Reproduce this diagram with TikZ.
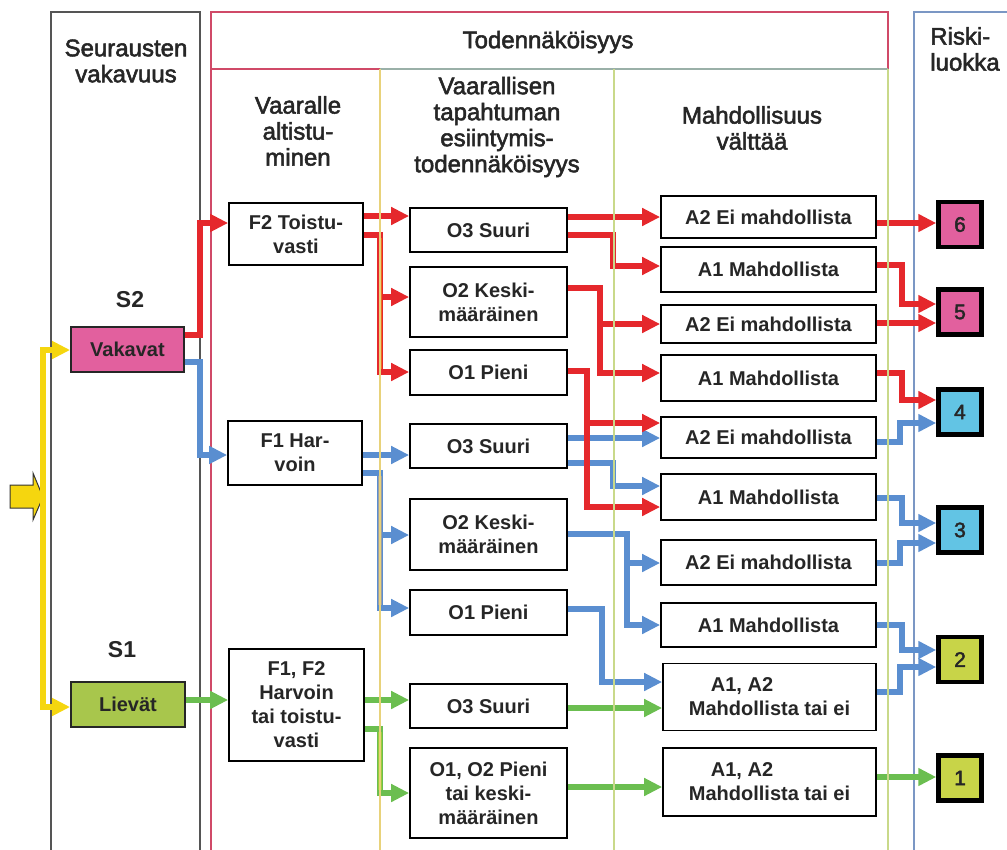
\documentclass[tikz,border=0pt]{standalone}
\usepackage{fontspec}
\setmainfont{Liberation Sans}
\newfontfamily\medfont{Liberation Sans}[FakeBold=2.2]
\usetikzlibrary{arrows.meta}
\definecolor{cred}{HTML}{E5282C}
\definecolor{cblue}{HTML}{5A8ED0}
\definecolor{cgreen}{HTML}{6BBE50}
\definecolor{cyel}{HTML}{F5D60F}
\definecolor{fpink}{HTML}{E2609E}
\definecolor{fcyan}{HTML}{62C4E4}
\definecolor{flime}{HTML}{C8D448}
\definecolor{fliev}{HTML}{A8C64C}
\definecolor{pgray}{HTML}{555555}
\definecolor{pred}{HTML}{D04A68}
\definecolor{pteal}{HTML}{9AB0A8}
\definecolor{pblue}{HTML}{7B97C4}
\definecolor{colY}{HTML}{E8D27A}
\definecolor{colG}{HTML}{C9D98A}
\definecolor{busgray}{HTML}{9A9EA6}
\definecolor{busorange}{HTML}{EE6A1E}
\definecolor{buslime}{HTML}{9CCB3C}
\definecolor{txt}{HTML}{262626}
\begin{document}
\begin{tikzpicture}[x=1pt,y=-1pt,
  box/.style={draw=black, line width=1.7pt, fill=white, inner sep=0pt, text=txt, align=center,
    font=\bfseries\fontsize{20}{24}\selectfont},
  sevbox/.style={draw=black!85, line width=1.8pt, inner sep=0pt, text=txt,
    font=\bfseries\fontsize{20}{24}\selectfont},
  riskbox/.style={draw=black, line width=4.5pt, minimum width=43pt, minimum height=45pt, inner sep=0pt,
    text=txt, font=\medfont\fontsize{21}{24}\selectfont},
  head/.style={font=\medfont\fontsize{24}{26}\selectfont, text=txt, align=center, inner sep=0pt},
  slab/.style={font=\bfseries\fontsize{23}{26}\selectfont, text=txt, inner sep=0pt},
  arr/.style={line width=6pt, -{Triangle[length=18pt,width=17pt]}},
  ra/.style={arr, draw=cred, color=cred},
  ba/.style={arr, draw=cblue, color=cblue},
  ga/.style={arr, draw=cgreen, color=cgreen},
  ya/.style={line width=6pt, draw=cyel, color=cyel, {Triangle[length=18pt,width=17pt]}-{Triangle[length=18pt,width=17pt]}},
  colline/.style={line width=1.2pt}
]
\useasboundingbox (0,0) rectangle (1007,849);
% panels
\draw[line width=1.3pt, draw=pgray] (51,852) -- (51,12) -- (200,12) -- (200,852);
\draw[line width=1.3pt, draw=pred] (211,852) -- (211,12) -- (888,12) -- (888,69);
\draw[line width=1.3pt, draw=pred] (211,69) -- (380,69);
\draw[line width=1.3pt, draw=pteal] (380,69) -- (888,69);
\draw[line width=1.3pt, draw=pblue] (914,852) -- (914,12) -- (1012,12);

% headers
\node[head] (hsev) at (126,61) {Seurausten\\vakavuus};
\node[head] (htod) at (548,42) {Todennäköisyys};
\node[head] (hexp) at (298,131) {Vaaralle\\altistu-\\minen};
\node[head] (hocc) at (497,127) {Vaarallisen\\tapahtuman\\esiintymis-\\todennäköisyys};
\node[head] (havo) at (752,128) {Mahdollisuus\\välttää};
\node[head, align=left] (hrisk) at (965,49) {Riski-\\luokka};
\node[slab] (s2) at (130,300) {S2};
\node[slab] (s1) at (122,650) {S1};

% severity
\node[sevbox, fill=fpink, minimum width=113pt, minimum height=45pt] (vak) at (127.5,349.5) {Vakavat};
\node[sevbox, fill=fliev, minimum width=114pt, minimum height=45pt] (liev) at (128,704.5) {Lievät};

% exposure
\node[box, minimum width=134pt, minimum height=62pt] (F2) at (296,234) {F2 Toistu-\\vasti};
\node[box, minimum width=134pt, minimum height=64pt] (F1) at (295,453) {F1 Har-\\voin};
\node[box, minimum width=135pt, minimum height=112pt] (F12) at (296.5,705) {F1, F2\\Harvoin\\tai toistu-\\vasti};

% occurrence
\node[box, minimum width=157pt, minimum height=44pt] (O3a) at (488.5,230) {O3 Suuri};
\node[box, minimum width=157pt, minimum height=70pt] (O2a) at (488.5,302) {O2 Keski-\\määräinen};
\node[box, minimum width=157pt, minimum height=45pt] (O1a) at (488.5,372.5) {O1 Pieni};
\node[box, minimum width=157pt, minimum height=44pt] (O3b) at (488.5,446) {O3 Suuri};
\node[box, minimum width=157pt, minimum height=71pt] (O2b) at (488.5,534.5) {O2 Keski-\\määräinen};
\node[box, minimum width=157pt, minimum height=45pt] (O1b) at (488.5,612.5) {O1 Pieni};
\node[box, minimum width=157pt, minimum height=44pt] (O3c) at (488.5,706) {O3 Suuri};
\node[box, minimum width=157pt, minimum height=90pt] (O12) at (488.5,793) {O1, O2 Pieni\\tai keski-\\määräinen};

% avoidance
\node[box, minimum width=215pt, minimum height=42pt] (A2a) at (768.5,217) {A2 Ei mahdollista};
\node[box, minimum width=215pt, minimum height=45pt] (A1a) at (768.5,269.5) {A1 Mahdollista};
\node[box, minimum width=215pt, minimum height=38pt] (A2b) at (768.5,324) {A2 Ei mahdollista};
\node[box, minimum width=215pt, minimum height=46pt] (A1b) at (768.5,378) {A1 Mahdollista};
\node[box, minimum width=215pt, minimum height=41pt] (A2c) at (768.5,437.5) {A2 Ei mahdollista};
\node[box, minimum width=215pt, minimum height=46pt] (A1c) at (768.5,497) {A1 Mahdollista};
\node[box, minimum width=215pt, minimum height=45pt] (A2d) at (768.5,562.5) {A2 Ei mahdollista};
\node[box, minimum width=215pt, minimum height=44pt] (A1d) at (768.5,625) {A1 Mahdollista};
\node[box, minimum width=213pt, minimum height=67pt, align=left] (AAa) at (769.5,697) {\hspace*{22pt}A1, A2\\Mahdollista tai ei};
\node[box, minimum width=213pt, minimum height=68pt, align=left] (AAb) at (769.5,782) {\hspace*{22pt}A1, A2\\Mahdollista tai ei};

% risk classes
\node[riskbox, fill=fpink] (R6) at (960,224.5) {6};
\node[riskbox, fill=fpink] (R5) at (960,312) {5};
\node[riskbox, fill=fcyan] (R4) at (960,412) {4};
\node[riskbox, fill=fcyan] (R3) at (960,530) {3};
\node[riskbox, fill=flime] (R2) at (960,659.5) {2};
\node[riskbox, fill=flime] (R1) at (960,778) {1};

% entry arrow
\draw[fill=cyel, draw=black!80, line width=1pt] (10,485) -- (33,485) -- (33,473) -- (43,497) -- (33,520) -- (33,508) -- (10,508) -- cycle;
\draw[ya] (vak.west |- 0,350) -| (43,707) -- (liev.west |- 0,707);

% severity -> exposure
\draw[ra] (vak.east |- 0,335) -| (200,223) -- (F2.west |- 0,223);
\draw[ba] (vak.east |- 0,362) -| (200,455) -- (F1.west |- 0,455);
\draw[ga] (liev.east |- 0,700) -- (F12.west |- 0,700);

% exposure -> occurrence
\draw[ra] (F2.east |- 0,216) -- (O3a.west |- 0,216);
\draw[ra] (F2.east |- 0,235) -| (380,372) -- (O1a.west |- 0,372);
\draw[ra] (380,297) -- (O2a.west |- 0,297);
\draw[line width=3pt, draw=busorange] (380,238) -- (380,369);
\draw[ba] (F1.east |- 0,455) -- (O3b.west |- 0,455);
\draw[ba] (F1.east |- 0,473) -| (380,608) -- (O1b.west |- 0,608);
\draw[ba] (380,535) -- (O2b.west |- 0,535);
\draw[line width=4pt, draw=busgray] (380,476) -- (380,605);
\draw[ga] (F12.east |- 0,700) -- (O3c.west |- 0,700);
\draw[ga] (F12.east |- 0,729) -| (380,793) -- (O12.west |- 0,793);
\draw[line width=4pt, draw=buslime] (380,732) -- (380,790);

% occurrence -> avoidance
\draw[ra] (O3a.east |- 0,217) -- (A2a.west |- 0,217);
\draw[ra] (O3a.east |- 0,235) -| (613,266) -- (A1a.west |- 0,266);
\draw[ra] (O2a.east |- 0,288) -| (600,373) -- (A1b.west |- 0,373);
\draw[ra] (600,324) -- (A2b.west |- 0,324);
\draw[ba] (O3b.east |- 0,438) -- (A2c.west |- 0,438);
\draw[ba] (O3b.east |- 0,463) -| (613,486) -- (A1c.west |- 0,486);
\draw[ra] (O1a.east |- 0,371) -| (587,507) -- (A1c.west |- 0,507);
\draw[ra] (587,423) -- (A2c.west |- 0,423);
\draw[ba] (O2b.east |- 0,534) -| (627,625) -- (A1d.west |- 0,625);
\draw[ba] (627,563) -- (A2d.west |- 0,563);
\draw[ba] (O1b.east |- 0,609) -| (602,682) -- (AAa.west |- 0,682);
\draw[ga] (O3c.east |- 0,708) -- (AAa.west |- 0,708);
\draw[ga] (O12.east |- 0,787) -- (AAb.west |- 0,787);

% avoidance -> risk
\draw[ra] (A2a.east |- 0,223) -- (R6.west |- 0,223);
\draw[ra] (A1a.east |- 0,265) -| (902,304) -- (R5.west |- 0,304);
\draw[ra] (A2b.east |- 0,323) -- (R5.west |- 0,323);
\draw[ra] (A1b.east |- 0,373) -| (902,400) -- (R4.west |- 0,400);
\draw[ba] (A2c.east |- 0,442) -| (900,423) -- (R4.west |- 0,423);
\draw[ba] (A1c.east |- 0,498) -| (902,523) -- (R3.west |- 0,523);
\draw[ba] (A2d.east |- 0,563) -| (900,543) -- (R3.west |- 0,543);
\draw[ba] (A1d.east |- 0,625) -| (902,650) -- (R2.west |- 0,650);
\draw[ba] (AAa.east |- 0,692) -| (900,667) -- (R2.west |- 0,667);
\draw[ga] (AAb.east |- 0,777) -- (R1.west |- 0,777);

% column lines (drawn over the connectors)
\draw[colline, draw=colY] (380,69) -- (380,852);
\draw[colline, draw=colG] (614,69) -- (614,852);
\draw[colline, draw=colG] (888,69) -- (888,852);
\end{tikzpicture}
\end{document}
